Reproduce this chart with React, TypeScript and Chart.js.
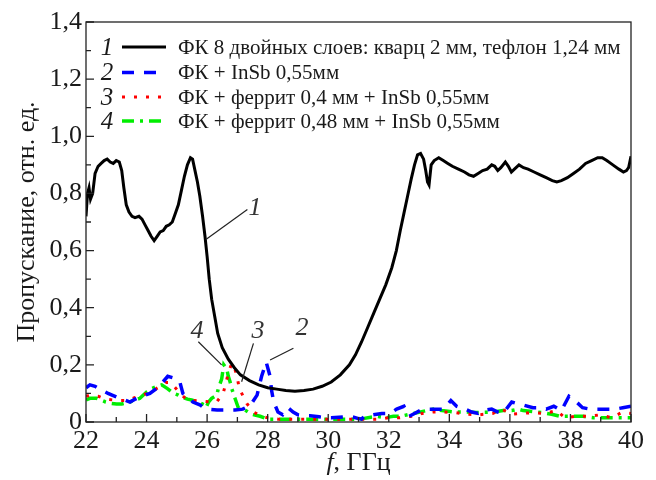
import React, { useEffect, useRef } from 'react';
import { Chart, registerables } from 'chart.js';

Chart.register(...registerables);

// ---------- data ----------
const f1 = [22.00,22.05,22.10,22.15,22.22,22.30,22.40,22.50,22.60,22.70,22.80,22.90,23.00,23.10,23.18,23.25,23.33,23.42,23.52,23.62,23.75,23.85,23.95,24.05,24.15,24.25,24.35,24.45,24.55,24.65,24.75,24.85,24.95,25.05,25.15,25.25,25.35,25.45,25.52,25.60,25.68,25.76,25.85,25.93,26.00,26.07,26.15,26.25,26.35,26.50,26.70,26.90,27.10,27.40,27.70,28.00,28.30,28.60,28.90,29.20,29.50,29.80,30.10,30.40,30.70,30.90,31.10,31.30,31.50,31.70,31.90,32.10,32.25,32.38,32.50,32.62,32.74,32.85,32.95,33.05,33.15,33.22,33.28,33.33,33.40,33.50,33.65,33.80,33.95,34.10,34.30,34.50,34.65,34.80,34.95,35.10,35.25,35.40,35.50,35.60,35.70,35.85,35.95,36.05,36.15,36.30,36.45,36.60,36.80,37.00,37.20,37.40,37.55,37.70,37.90,38.10,38.30,38.50,38.70,38.90,39.05,39.20,39.40,39.60,39.75,39.85,39.92,40.00];
const t1 = [0.72,0.80,0.82,0.78,0.80,0.87,0.895,0.905,0.915,0.92,0.91,0.905,0.915,0.91,0.88,0.82,0.76,0.735,0.72,0.715,0.72,0.71,0.69,0.67,0.65,0.635,0.65,0.665,0.67,0.685,0.69,0.70,0.73,0.76,0.81,0.86,0.90,0.925,0.92,0.88,0.84,0.79,0.72,0.65,0.58,0.50,0.43,0.37,0.31,0.26,0.22,0.19,0.165,0.145,0.13,0.12,0.115,0.11,0.108,0.11,0.115,0.125,0.14,0.165,0.20,0.235,0.28,0.33,0.38,0.43,0.48,0.54,0.60,0.67,0.73,0.79,0.85,0.90,0.935,0.94,0.92,0.88,0.84,0.83,0.90,0.915,0.925,0.915,0.905,0.895,0.885,0.875,0.865,0.86,0.87,0.88,0.885,0.90,0.895,0.88,0.89,0.91,0.895,0.875,0.885,0.90,0.89,0.885,0.875,0.865,0.855,0.845,0.84,0.845,0.855,0.87,0.885,0.905,0.915,0.925,0.925,0.915,0.90,0.885,0.875,0.88,0.89,0.93];

const f2 = [22.00,22.13,22.30,22.46,22.73,22.86,23.06,23.22,23.45,23.62,23.80,23.95,24.11,24.30,24.44,24.54,24.70,24.87,25.00,25.10,25.20,25.37,25.53,25.76,25.90,26.03,26.33,26.65,26.92,27.18,27.35,27.50,27.65,27.80,27.95,28.08,28.13,28.20,28.34,28.50,28.60,28.67,28.84,29.00,29.23,29.40,29.70,29.90,30.10,30.50,30.80,31.00,31.10,31.20,31.48,31.77,32.04,32.26,32.50,32.67,32.85,33.03,33.25,33.58,33.80,34.05,34.24,34.52,34.74,34.95,35.11,35.40,35.60,35.77,36.06,36.22,36.43,36.76,37.05,37.20,37.45,37.70,37.95,38.15,38.40,38.65,38.98,39.20,39.47,39.73,40.00];
const t2 = [0.12,0.13,0.125,0.115,0.10,0.094,0.085,0.08,0.07,0.08,0.088,0.094,0.10,0.115,0.13,0.14,0.16,0.155,0.15,0.14,0.10,0.085,0.07,0.06,0.05,0.045,0.042,0.042,0.042,0.045,0.055,0.07,0.094,0.16,0.21,0.16,0.11,0.07,0.035,0.025,0.035,0.05,0.035,0.025,0.022,0.022,0.018,0.015,0.015,0.018,0.018,0.012,0.01,0.02,0.025,0.03,0.03,0.045,0.055,0.02,0.03,0.04,0.045,0.045,0.045,0.075,0.055,0.045,0.035,0.03,0.04,0.045,0.035,0.03,0.07,0.065,0.06,0.05,0.05,0.045,0.055,0.04,0.09,0.075,0.05,0.045,0.045,0.045,0.045,0.05,0.055];

const f3 = [22.00,22.13,22.40,22.65,22.90,23.10,23.34,23.60,23.90,24.22,24.45,24.64,24.80,24.95,25.15,25.33,25.60,25.90,26.10,26.32,26.53,26.70,26.81,26.90,26.98,27.06,27.31,27.53,27.80,28.00,28.35,29.09,29.90,30.88,31.16,31.65,31.98,32.37,32.76,33.10,33.47,33.80,34.19,34.57,34.96,35.43,35.73,36.06,36.39,36.77,37.16,37.54,37.82,38.20,38.64,38.97,39.36,39.69,40.00];
const t3 = [0.09,0.094,0.09,0.08,0.077,0.075,0.075,0.085,0.095,0.11,0.125,0.138,0.138,0.12,0.095,0.079,0.075,0.072,0.07,0.071,0.10,0.17,0.205,0.19,0.165,0.118,0.065,0.035,0.02,0.015,0.01,0.01,0.01,0.01,0.01,0.01,0.015,0.015,0.02,0.03,0.035,0.035,0.033,0.027,0.025,0.03,0.045,0.027,0.03,0.033,0.03,0.04,0.015,0.02,0.02,0.025,0.015,0.033,0.03];

const f4 = [22.00,22.13,22.35,22.63,22.85,23.01,23.18,23.45,23.78,24.00,24.17,24.35,24.50,24.69,24.90,25.05,25.16,25.35,25.49,25.71,25.90,25.96,26.05,26.15,26.32,26.37,26.48,26.55,26.65,26.70,26.76,26.81,26.92,27.03,27.25,27.47,27.75,28.02,28.40,28.80,29.07,29.50,29.95,30.28,30.55,30.88,31.05,31.60,31.93,32.04,32.15,32.37,32.70,33.25,33.47,33.75,34.19,34.57,34.90,35.45,35.78,36.06,36.28,36.44,37.05,37.38,37.65,37.93,38.15,38.42,38.75,38.97,39.24,39.86,40.00];
const t4 = [0.077,0.083,0.083,0.071,0.065,0.063,0.063,0.07,0.083,0.105,0.117,0.125,0.13,0.117,0.10,0.094,0.088,0.08,0.077,0.07,0.06,0.05,0.07,0.083,0.094,0.117,0.15,0.20,0.185,0.16,0.14,0.118,0.083,0.05,0.042,0.027,0.02,0.01,0.01,0.01,0.01,0.01,0.01,0.01,0.01,0.01,0.01,0.02,0.015,0.018,0.02,0.02,0.027,0.04,0.045,0.04,0.035,0.035,0.033,0.035,0.04,0.04,0.045,0.04,0.033,0.027,0.02,0.02,0.02,0.02,0.015,0.015,0.015,0.015,0.015];

const seriesNumbers = ['1', '2', '3', '4'];
const seriesLabels = [
  'ФК 8 двойных слоев: кварц 2 мм, тефлон 1,24 мм',
  'ФК + InSb 0,55мм',
  'ФК + феррит 0,4 мм + InSb 0,55мм',
  'ФК + феррит 0,48 мм + InSb 0,55мм',
];
const seriesColors = ['#000000', '#0000ff', '#ff0000', '#00ee00'];
const seriesDashes = [[], [12, 10], [3, 9], [12, 6, 3, 6]];
const seriesWidths = [3, 3.5, 3, 3.5];

const X_MIN = 22, X_MAX = 40, X_STEP = 2;
const Y_MIN = 0, Y_MAX = 1.4, Y_STEP = 0.2;
const xTitleItalic = 'f';
const xTitleRest = ', ГГц';
const yTitle = 'Пропускание, отн. ед.';

// callout labels in data units: [label, labelF, labelV, fromF, fromV, toF, toV]
const calloutText = ['1', '4', '3', '2'];
const calloutLabelF = [27.58, 25.67, 27.68, 29.13];
const calloutLabelV = [0.749, 0.318, 0.318, 0.329];
const calloutFromF = [27.33, 25.71, 27.53, 28.85];
const calloutFromV = [0.744, 0.281, 0.275, 0.258];
const calloutToF = [25.96, 26.48, 27.14, 28.08];
const calloutToV = [0.639, 0.20, 0.141, 0.217];

const FONT = '"Liberation Serif", "Times New Roman", serif';
const TEXT = '#1a1a1a';

const toPts = (xs: number[], ys: number[]) => xs.map((x, i) => ({ x, y: ys[i] }));

const decorPlugin = {
  id: 'decor',
  afterDatasetsDraw(chart: any) {
    const { ctx, chartArea: a, scales } = chart;
    const xs = scales.x, ys = scales.y;
    ctx.save();
    // frame
    ctx.strokeStyle = '#222';
    ctx.lineWidth = 1.3;
    ctx.setLineDash([]);
    ctx.strokeRect(a.left, a.top, a.right - a.left, a.bottom - a.top);
    // inward ticks
    ctx.beginPath();
    for (let i = 0; i <= (X_MAX - X_MIN); i++) {
      const px = xs.getPixelForValue(X_MIN + i);
      const len = i % 2 === 0 ? 8 : 5;
      ctx.moveTo(px, a.bottom);
      ctx.lineTo(px, a.bottom - len);
    }
    for (let i = 0; i <= Math.round((Y_MAX - Y_MIN) * 10); i++) {
      const py = ys.getPixelForValue(Y_MIN + i / 10);
      const len = i % 2 === 0 ? 8 : 5;
      ctx.moveTo(a.left, py);
      ctx.lineTo(a.left + len, py);
    }
    ctx.stroke();

    // callouts
    ctx.lineWidth = 1.2;
    ctx.strokeStyle = '#222';
    for (let i = 0; i < calloutText.length; i++) {
      ctx.beginPath();
      ctx.moveTo(xs.getPixelForValue(calloutFromF[i]), ys.getPixelForValue(calloutFromV[i]));
      ctx.lineTo(xs.getPixelForValue(calloutToF[i]), ys.getPixelForValue(calloutToV[i]));
      ctx.stroke();
      ctx.fillStyle = '#333';
      ctx.font = `italic 26px ${FONT}`;
      ctx.textAlign = 'center';
      ctx.textBaseline = 'middle';
      ctx.fillText(calloutText[i], xs.getPixelForValue(calloutLabelF[i]), ys.getPixelForValue(calloutLabelV[i]));
    }

    // legend
    const rowY = [25, 50.5, 75, 99];
    for (let i = 0; i < seriesLabels.length; i++) {
      const y = a.top + rowY[i];
      ctx.fillStyle = TEXT;
      ctx.font = `italic 25px ${FONT}`;
      ctx.textAlign = 'center';
      ctx.textBaseline = 'middle';
      ctx.fillText(seriesNumbers[i], a.left + 21, y + 1);
      ctx.beginPath();
      ctx.strokeStyle = seriesColors[i];
      ctx.lineWidth = seriesWidths[i];
      ctx.setLineDash(seriesDashes[i]);
      ctx.moveTo(a.left + 36, y);
      ctx.lineTo(a.left + 80, y);
      ctx.stroke();
      ctx.setLineDash([]);
      ctx.fillStyle = TEXT;
      ctx.font = `21px ${FONT}`;
      ctx.textAlign = 'left';
      ctx.fillText(seriesLabels[i], a.left + 92, y + 1);
    }

    // x title
    ctx.font = `italic 26px ${FONT}`;
    const w1 = ctx.measureText(xTitleItalic).width;
    ctx.font = `26px ${FONT}`;
    const w2 = ctx.measureText(xTitleRest).width;
    const cx = (a.left + a.right) / 2;
    const start = cx - (w1 + w2) / 2;
    const ty = a.bottom + 41;
    ctx.fillStyle = TEXT;
    ctx.textAlign = 'left';
    ctx.textBaseline = 'middle';
    ctx.font = `italic 26px ${FONT}`;
    ctx.fillText(xTitleItalic, start, ty);
    ctx.font = `26px ${FONT}`;
    ctx.fillText(xTitleRest, start + w1, ty);
    ctx.restore();
  },
};

export default function App() {
  const ref = useRef<HTMLCanvasElement | null>(null);
  useEffect(() => {
    if (!ref.current) return;
    const datasets = [
      [f1, t1], [f2, t2], [f3, t3], [f4, t4],
    ].map(([xs, ys], i) => ({
      label: seriesLabels[i],
      data: toPts(xs as number[], ys as number[]),
      borderColor: seriesColors[i],
      backgroundColor: seriesColors[i],
      borderWidth: seriesWidths[i],
      borderDash: seriesDashes[i],
      pointRadius: 0,
      tension: 0,
      fill: false,
    }));
    const chart = new Chart(ref.current, {
      type: 'line',
      data: { datasets },
      options: {
        animation: false,
        responsive: false,
        maintainAspectRatio: false,
        layout: { padding: { left: 0, right: 25, top: 22, bottom: 0 } },
        plugins: { legend: { display: false }, tooltip: { enabled: false } },
        scales: {
          x: {
            type: 'linear',
            min: X_MIN,
            max: X_MAX,
            grid: { display: false, drawTicks: false },
            border: { display: false },
            ticks: {
              stepSize: X_STEP,
              padding: 4,
              color: TEXT,
              font: { family: FONT, size: 26 },
              maxRotation: 0,
              callback: (v: any) => String(v),
            },
            afterFit: (s: any) => { s.height = 58; },
          },
          y: {
            type: 'linear',
            min: Y_MIN,
            max: Y_MAX,
            grid: { display: false, drawTicks: false },
            border: { display: false },
            title: {
              display: true,
              text: yTitle,
              color: TEXT,
              font: { family: FONT, size: 26 },
              padding: { top: 12, bottom: 0 },
            },
            ticks: {
              stepSize: Y_STEP,
              padding: 4,
              color: TEXT,
              font: { family: FONT, size: 26 },
              callback: (v: any) => (Math.abs(v) < 1e-9 ? '0' : Number(v).toFixed(1).replace('.', ',')),
            },
            afterFit: (s: any) => { s.width = 86; },
          },
        },
      },
      plugins: [decorPlugin],
    } as any);
    return () => chart.destroy();
  }, []);
  return (
    <div style={{ position: 'absolute', left: 0, top: 0, width: 656, height: 480, background: '#fff' }}>
      <canvas ref={ref} width={656} height={480} style={{ width: 656, height: 480 }} />
    </div>
  );
}
